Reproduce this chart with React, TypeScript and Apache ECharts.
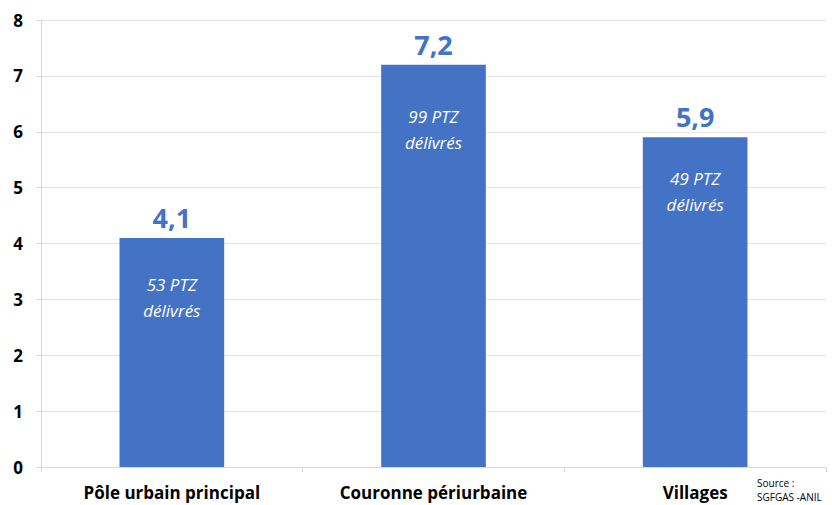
import React, { useEffect, useRef } from "react";
import * as echarts from "echarts";

const categories = ["Pôle urbain principal", "Couronne périurbaine", "Villages"];
const values = [4.1, 7.2, 5.9];
const ptzCounts = [53, 99, 49];
const yTicks = [0, 1, 2, 3, 4, 5, 6, 7, 8];
const sourceLines = ["Source :", "SGFGAS -ANIL"];

const BLUE = "#4472C4";
const FONT = "'Open Sans', sans-serif";
const innerLabelGaps = [34, 39, 28];

export default function App() {
  const ref = useRef<HTMLDivElement>(null);
  useEffect(() => {
    if (!ref.current) return;
    const chart = echarts.init(ref.current, null, { renderer: "svg" });
    chart.setOption({
      animation: false,
      grid: { left: 41, right: 6, top: 20, bottom: 38, containLabel: false },
      xAxis: {
        type: "category",
        data: categories,
        axisLine: { show: true, lineStyle: { color: "#d9d9d9", width: 1 } },
        axisTick: { show: true, length: 5, lineStyle: { color: "#d9d9d9" } },
        axisLabel: {
          color: "#000",
          fontFamily: FONT,
          fontWeight: "bold",
          fontSize: 17,
          margin: 17,
        },
      },
      yAxis: {
        type: "value",
        min: yTicks[0],
        max: yTicks[yTicks.length - 1],
        interval: 1,
        axisLine: { show: true, lineStyle: { color: "#d9d9d9", width: 1 } },
        axisTick: { show: true, length: 5, lineStyle: { color: "#d9d9d9" } },
        splitLine: { show: true, lineStyle: { color: "#e6e6e6", width: 1 } },
        axisLabel: {
          color: "#000",
          fontFamily: FONT,
          fontWeight: "bold",
          fontSize: 17,
          margin: 18,
        },
      },
      series: [
        {
          type: "bar",
          barWidth: "40%",
          itemStyle: { color: BLUE },
          data: values.map((v) => v),
          label: {
            show: true,
            position: "top",
            distance: 7,
            color: BLUE,
            fontFamily: FONT,
            fontWeight: "bold",
            fontSize: 27,
            formatter: (p: any) => String(p.value).replace(".", ","),
          },
        },
        {
          type: "bar",
          barWidth: "40%",
          barGap: "-100%",
          itemStyle: { color: "transparent" },
          silent: true,
          data: values.map((v, i) => ({
            value: v,
            label: {
              show: true,
              position: "insideTop",
              distance: innerLabelGaps[i],
              color: "#fff",
              fontFamily: FONT,
              fontStyle: "italic",
              fontSize: 17,
              lineHeight: 26,
              formatter: `${ptzCounts[i]} PTZ\ndélivrés`,
            },
          })),
        },
      ],
      graphic: [
        {
          type: "text",
          left: 757,
          top: 476,
          style: {
            text: sourceLines.join("\n"),
            fontFamily: FONT,
            fontSize: 10,
            lineHeight: 14,
            fill: "#000",
          },
        },
      ],
    });
    return () => chart.dispose();
  }, []);
  return (
    <div
      ref={ref}
      style={{ position: "fixed", left: 0, top: 0, width: 832, height: 505, background: "#fff" }}
    />
  );
}
